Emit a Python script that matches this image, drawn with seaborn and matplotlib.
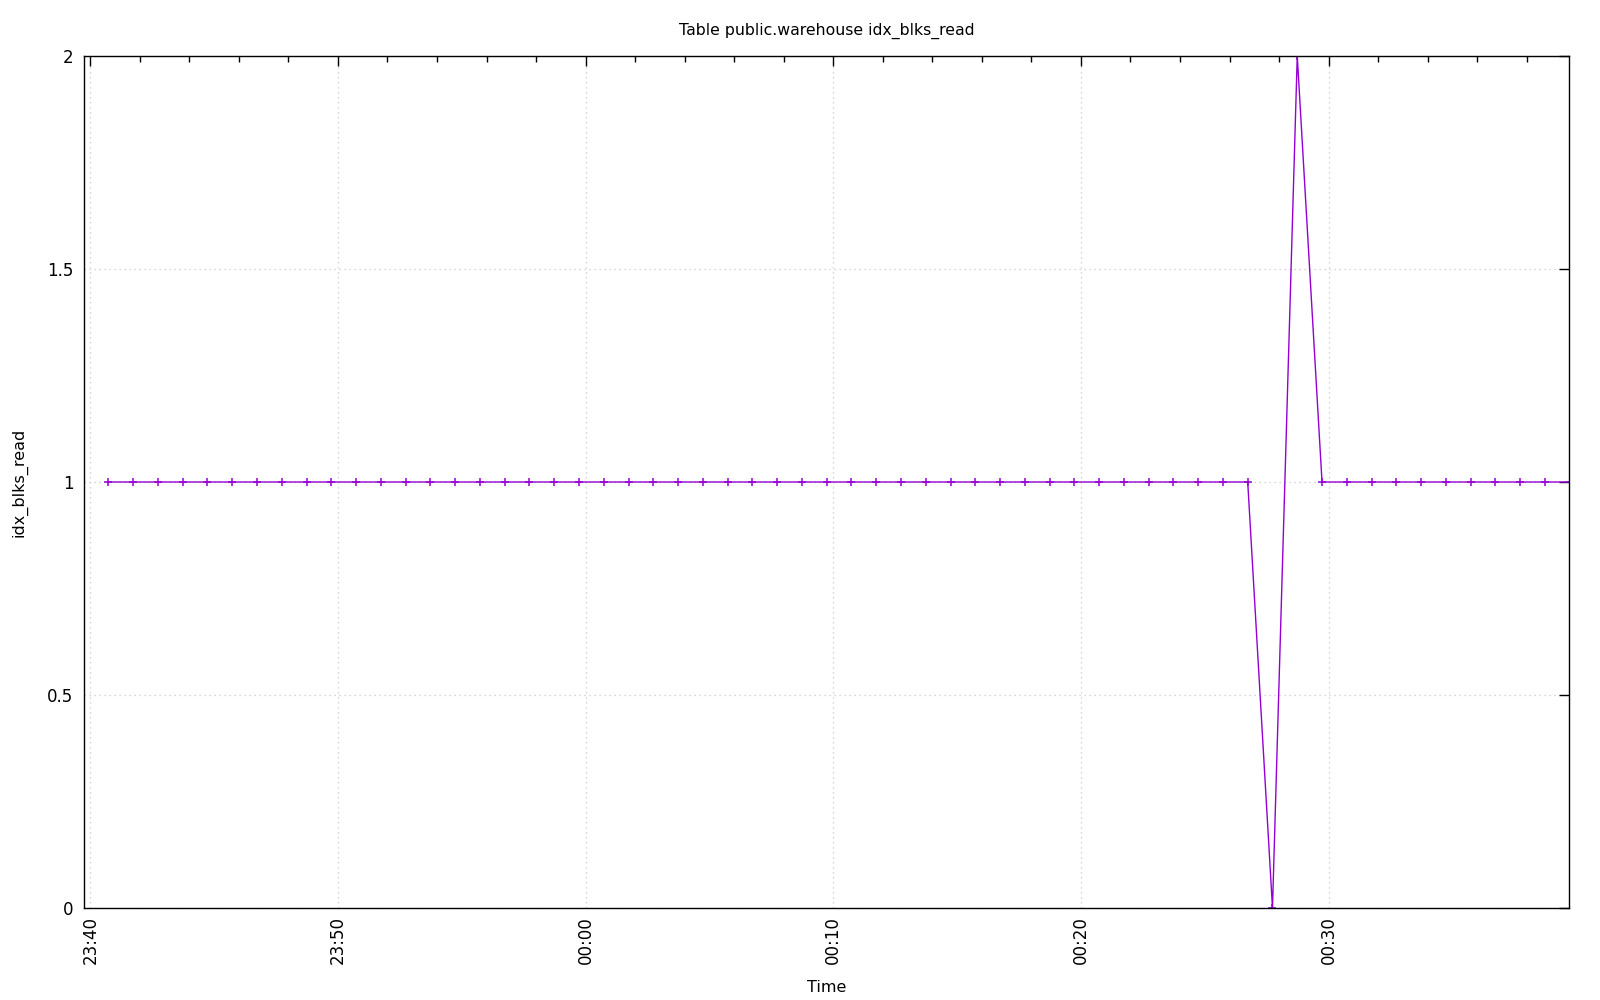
import pandas as pd
import matplotlib
matplotlib.use("Agg")
import matplotlib.pyplot as plt
import matplotlib.dates as mdates
import seaborn as sns

# Dados (uma amostra por minuto)
start_time = "2024-01-01 23:40:44"
n_points = 60
idx_blks_read = [1, 1, 1, 1, 1, 1, 1, 1, 1, 1,
                 1, 1, 1, 1, 1, 1, 1, 1, 1, 1,
                 1, 1, 1, 1, 1, 1, 1, 1, 1, 1,
                 1, 1, 1, 1, 1, 1, 1, 1, 1, 1,
                 1, 1, 1, 1, 1, 1, 1, 0, 2, 1,
                 1, 1, 1, 1, 1, 1, 1, 1, 1, 1]
y_ticks = [0, 0.5, 1, 1.5, 2]
y_tick_labels = ["0", "0.5", "1", "1.5", "2"]

times = pd.date_range(start_time, periods=n_points, freq="60s")
df = pd.DataFrame({"Time": times, "idx_blks_read": idx_blks_read})

sns.set_style("white")
plt.rcParams['font.family'] = ['DejaVu Sans']
plt.rcParams['font.size'] = 11

fig = plt.figure(figsize=(16, 10), dpi=100)
ax = fig.add_axes([0.0528, 0.092, 0.928, 0.852])

sns.lineplot(data=df, x="Time", y="idx_blks_read", color="#9400d3",
             linewidth=1.0, marker="+", markersize=5.5, markeredgewidth=1.1,
             markeredgecolor="#9400d3", ax=ax)

# Eixos
ax.set_xlim(pd.Timestamp("2024-01-01 23:39:46"), times[-1] - pd.Timedelta(seconds=1))
ax.set_ylim(0, 2)
ax.set_yticks(y_ticks)
ax.set_yticklabels(y_tick_labels)
ax.xaxis.set_major_locator(mdates.MinuteLocator(byminute=range(0, 60, 10)))
ax.xaxis.set_minor_locator(mdates.MinuteLocator(byminute=range(0, 60, 2)))
ax.xaxis.set_major_formatter(mdates.DateFormatter("%H:%M"))
plt.setp(ax.get_xticklabels(), rotation=90, ha="center")

ax.tick_params(axis="both", which="major", direction="in", length=7, width=1,
               top=True, right=True, labelsize=12, color="black", labelcolor="black")
ax.tick_params(axis="y", which="major", pad=8)
ax.tick_params(axis="x", which="major", pad=6)
ax.tick_params(axis="x", which="minor", direction="in", length=4, width=1,
               top=True, color="black")

ax.grid(True, which="major", color="#c8c8c8", linestyle=(0, (1, 3)), linewidth=0.9)
for spine in ax.spines.values():
    spine.set_color("black")
    spine.set_linewidth(1)

ax.set_title("Table public.warehouse idx_blks_read", fontsize=11.3, pad=15, color="black")
ax.set_xlabel("Time", fontsize=11.5, labelpad=11, color="black")
ax.set_ylabel("idx_blks_read", fontsize=11.5, labelpad=14, color="black")

fig.savefig("out.png", dpi=100)
